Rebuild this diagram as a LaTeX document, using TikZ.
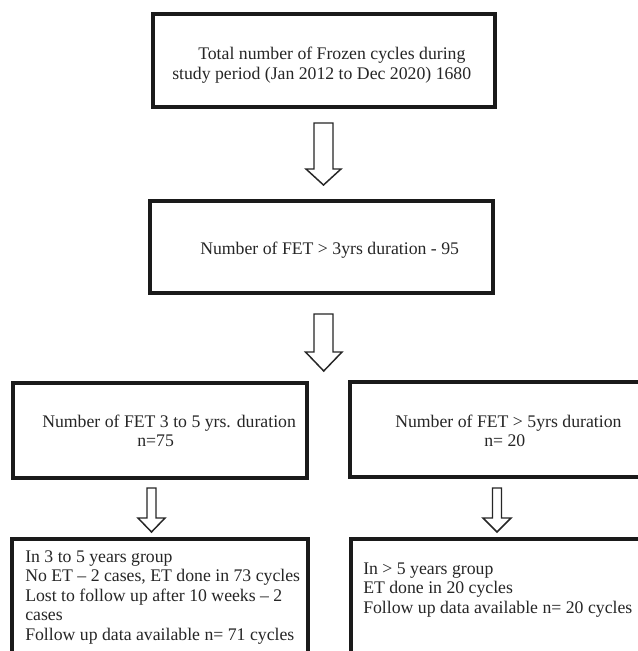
\documentclass[tikz,border=0pt]{standalone}
\usepackage{fontspec}
\setmainfont{Liberation Serif}
\definecolor{txt}{HTML}{262626}
\definecolor{edge}{HTML}{1A1A1A}
\begin{document}
\begin{tikzpicture}[x=0.75pt,y=-0.75pt,
  box/.style={draw=edge, line width=2.4pt, rectangle, inner sep=0pt},
  lbl/.style={anchor=base west, inner sep=0pt, text=txt, font=\fontsize{13.3}{14.6}\selectfont, align=left},
  barrow/.style={draw=black!85, line width=1.1pt, line join=miter, fill=white}]
\useasboundingbox (0,0) rectangle (638,651);
\fill[white] (0,0) rectangle (638,651);
\clip (0,0) rectangle (638,651);

% boxes
\node[box, minimum width=256.5pt, minimum height=69.75pt] (b1) at (324,60.5) {};
\node[box, minimum width=257.25pt, minimum height=69pt] (b2) at (321.5,247) {};
\node[box, minimum width=220.5pt, minimum height=71.25pt] (b3) at (160,430.5) {};
\node[box, minimum width=240pt, minimum height=71.25pt] (b4) at (510,429.5) {};
\node[box, minimum width=222pt, minimum height=105.75pt] (b5) at (160,609.5) {};
\node[box, minimum width=239.25pt, minimum height=105.75pt] (b6) at (510.5,609.5) {};

% texts (multi-line nodes: base = last line's baseline)
\node[lbl] (t1a) at (198,59) {Total number of Frozen cycles during};
\node[lbl] (t1b) at (172,79) {study period (Jan 2012 to Dec 2020) 1680};
\node[lbl] (t2) at (200,254) {Number of FET > 3yrs duration - 95};
\node[lbl] (t3a) at (42,427) {Number of FET 3 to 5 yrs. duration};
\node[lbl] (t3b) at (137,446) {n=75};
\node[lbl] (t4a) at (395,427) {Number of FET > 5yrs duration};
\node[lbl] (t4b) at (484,446) {n= 20};
\node[lbl] (t5) at (25,640) {In 3 to 5 years group\\No ET – 2 cases, ET done in 73 cycles\\Lost to follow up after 10 weeks – 2\\cases\\Follow up data available n= 71 cycles};
\node[lbl] (t6) at (363,613) {In > 5 years group\\ET done in 20 cycles\\Follow up data available n= 20 cycles};

% block arrows
\draw[barrow] (314,123) -- (333,123) -- (333,169) -- (341,169) -- (323.5,185) -- (306,169) -- (314,169) -- cycle;
\draw[barrow] (314,314) -- (333,314) -- (333,352) -- (342,352) -- (323.75,371) -- (305.5,352) -- (314,352) -- cycle;
\draw[barrow] (147,488) -- (156,488) -- (156,518) -- (165,518) -- (151.5,532) -- (138,518) -- (147,518) -- cycle;
\draw[barrow] (492.5,488) -- (501.5,488) -- (501.5,518) -- (511,518) -- (497,532) -- (483,518) -- (492.5,518) -- cycle;
\end{tikzpicture}
\end{document}
